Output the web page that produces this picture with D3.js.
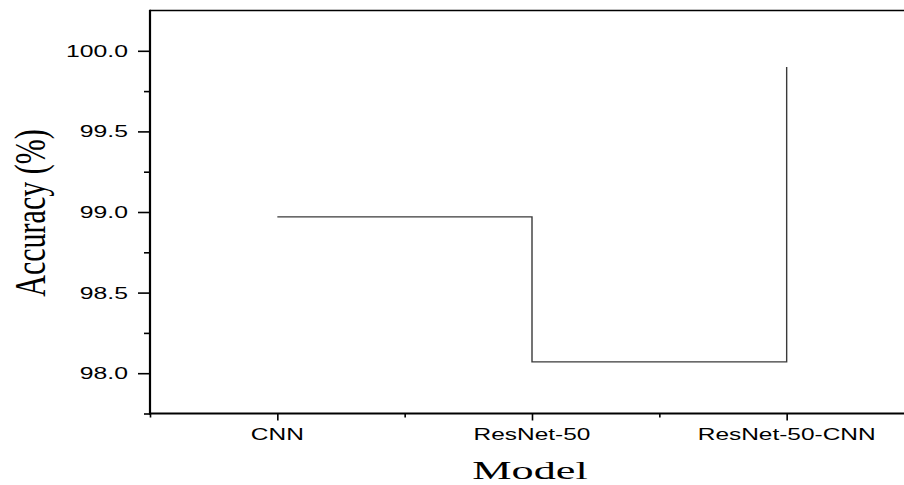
<!DOCTYPE html>
<html>
<head>
<meta charset="utf-8">
<script src="https://cdn.jsdelivr.net/npm/d3@7/dist/d3.min.js"></script>
<style>
  html, body { margin: 0; padding: 0; background: #fff; }
  svg { display: block; }
</style>
</head>
<body>
<svg id="chart" width="904" height="485"></svg>
<script>
// Model accuracy, drawn as a step line
const models = ["CNN", "ResNet-50", "ResNet-50-CNN"];
const accuracy = [98.97, 98.07, 99.90];
const yMajorTicks = [98.0, 98.5, 99.0, 99.5, 100.0];
const yMinorTicks = [97.75, 98.25, 98.75, 99.25, 99.75];
const xMinorTicks = [-0.5, 0.5, 1.5, 2.5];

(function () {
  const svg = d3.select("#chart");
  const plotLeft = 150, plotRight = 914, plotTop = 10.5, plotBottom = 413.5;
  const stretch = 1.5;   // horizontal widening of the lettering

  const x = d3.scaleLinear().domain([-0.5, 2.5]).range([plotLeft, plotRight]);
  const y = d3.scaleLinear().domain([97.75, 100.25]).range([plotBottom, plotTop]);

  // frame top edge and right edge
  svg.append("path")
    .attr("d", `M${plotLeft},${plotTop}H${plotRight}V${plotBottom}`)
    .attr("fill", "none").attr("stroke", "#000").attr("stroke-width", 1.6);

  // step line
  const pts = models.map((m, i) => [x(i), y(accuracy[i])]);
  svg.append("path")
    .attr("d", d3.line().curve(d3.curveStepAfter)(pts))
    .attr("fill", "none").attr("stroke", "#3a3a3a").attr("stroke-width", 1.4);

  function styleAxis(g) {
    g.select(".domain").remove();
    g.selectAll(".tick line").attr("stroke", "#000").attr("stroke-width", 1.6);
    g.selectAll(".tick text").remove();
  }

  // y axis ticks
  svg.append("g").attr("transform", `translate(${plotLeft},0)`)
    .call(d3.axisLeft(y).tickValues(yMajorTicks).tickSize(12).tickFormat(""))
    .call(styleAxis);
  svg.append("g").attr("transform", `translate(${plotLeft},0)`)
    .call(d3.axisLeft(y).tickValues(yMinorTicks).tickSize(6).tickFormat(""))
    .call(styleAxis);

  // x axis ticks
  svg.append("g").attr("transform", `translate(0,${plotBottom})`)
    .call(d3.axisBottom(x).tickValues(d3.range(models.length)).tickSize(7).tickFormat(""))
    .call(styleAxis);
  svg.append("g").attr("transform", `translate(0,${plotBottom})`)
    .call(d3.axisBottom(x).tickValues(xMinorTicks).tickSize(4).tickFormat(""))
    .call(styleAxis);

  // axis lines
  svg.append("line").attr("x1", plotLeft).attr("x2", plotLeft)
    .attr("y1", plotTop - 0.8).attr("y2", plotBottom + 1)
    .attr("stroke", "#000").attr("stroke-width", 2.2);
  svg.append("line").attr("x1", plotLeft - 1).attr("x2", plotRight)
    .attr("y1", plotBottom).attr("y2", plotBottom)
    .attr("stroke", "#000").attr("stroke-width", 2.2);

  // y tick labels
  svg.append("g").selectAll("text").data(yMajorTicks).join("text")
    .attr("transform", d => `translate(128,${y(d)}) scale(${stretch},1)`)
    .attr("text-anchor", "end").attr("dy", "0.36em")
    .attr("font-family", "'Liberation Sans', Arial, sans-serif").attr("font-size", 16.5)
    .attr("fill", "#000")
    .text(d => d3.format(".1f")(d));

  // x tick labels
  svg.append("g").selectAll("text").data(models).join("text")
    .attr("transform", (d, i) => `translate(${x(i)},440) scale(${stretch},1)`)
    .attr("text-anchor", "middle")
    .attr("font-family", "'Liberation Sans', Arial, sans-serif").attr("font-size", 16.3)
    .attr("fill", "#000")
    .text(d => d);

  // axis titles
  svg.append("text")
    .attr("transform", `translate(530,479) scale(1.7,1)`)
    .attr("text-anchor", "middle")
    .attr("font-family", "'Liberation Serif', 'Times New Roman', serif").attr("font-size", 26)
    .attr("fill", "#000")
    .text("Model");

  svg.append("text")
    .attr("transform", `translate(45,213) scale(${stretch},1) rotate(-90)`)
    .attr("text-anchor", "middle")
    .attr("font-family", "'Liberation Serif', 'Times New Roman', serif").attr("font-size", 30)
    .attr("fill", "#000")
    .text("Accuracy (%)");
})();
</script>
</body>
</html>
